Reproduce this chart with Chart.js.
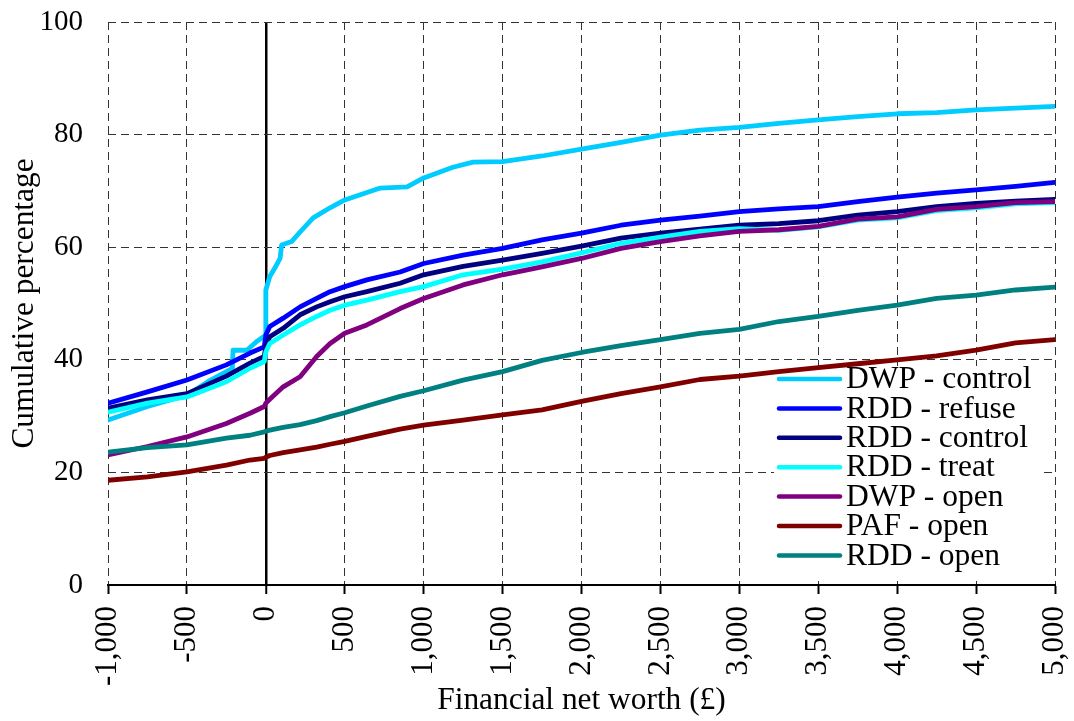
<!DOCTYPE html>
<html>
<head>
<meta charset="utf-8">
<script src="https://cdn.jsdelivr.net/npm/chart.js@4"></script>
<style>
  body { margin: 0; background: #fff; }
  #wrap { width: 1074px; height: 721px; position: relative; }
</style>
</head>
<body>
<div id="wrap"><canvas id="cdf-chart"></canvas></div>
<script>
const cdf_chart = document.getElementById("cdf-chart");

// net worth points (£), shared by most series
const worth = [-1000, -750, -500, -250, -100, -10, 0, 25, 110, 217, 322, 407, 500, 640, 851, 1000,
  1250, 1500, 1750, 2000, 2250, 2500, 2750, 3000, 3250, 3500, 3750, 4000, 4250, 4500, 4750, 5000];

const rddRefuse = [32.3, 34.3, 36.4, 39.1, 41.2, 42.3, 44.4, 45.9, 47.4, 49.4, 50.9, 52.1, 53.0, 54.2, 55.6, 57.1,
  58.6, 59.8, 61.3, 62.5, 63.9, 64.8, 65.5, 66.3, 66.8, 67.2, 68.1, 68.9, 69.6, 70.2, 70.8, 71.5];
const rddControl = [31.4, 32.9, 34.0, 37.1, 39.4, 40.6, 42.3, 44.1, 45.6, 48.0, 49.4, 50.3, 51.2, 52.1, 53.6, 55.1,
  56.6, 57.7, 58.9, 60.2, 61.6, 62.5, 63.2, 63.9, 64.2, 64.7, 65.7, 66.3, 67.2, 67.8, 68.2, 68.5];
const rddTreat = [30.7, 32.3, 33.4, 36.1, 38.5, 39.7, 41.4, 42.9, 44.4, 46.2, 47.7, 48.8, 49.7, 50.6, 52.1, 53.0,
  55.1, 56.1, 57.4, 59.0, 60.7, 61.8, 62.8, 63.3, 63.0, 63.6, 64.8, 65.2, 66.5, 67.0, 67.7, 67.9];
const dwpOpen = [23.1, 24.6, 26.3, 28.7, 30.5, 31.7, 32.3, 33.0, 35.2, 37.0, 40.6, 42.9, 44.7, 46.2, 49.1, 50.9,
  53.3, 55.1, 56.5, 58.0, 59.8, 61.0, 62.0, 62.8, 63.1, 63.7, 65.0, 65.4, 66.7, 67.2, 67.9, 68.1];
const pafOpen = [18.6, 19.2, 20.1, 21.3, 22.2, 22.5, 22.7, 23.0, 23.5, 24.0, 24.5, 25.0, 25.5, 26.4, 27.7, 28.4,
  29.3, 30.2, 31.1, 32.6, 34.0, 35.2, 36.5, 37.1, 37.9, 38.6, 39.3, 40.0, 40.7, 41.7, 43.0, 43.6];
const rddOpen = [23.6, 24.4, 24.9, 26.1, 26.6, 27.2, 27.3, 27.5, 28.0, 28.5, 29.2, 29.9, 30.6, 31.8, 33.5, 34.5,
  36.4, 37.9, 39.9, 41.3, 42.5, 43.6, 44.7, 45.4, 46.8, 47.7, 48.8, 49.7, 50.9, 51.5, 52.4, 52.9];

// DWP - control jumps in different places, so it has its own x points
const dwpControlWorth = [-1000, -750, -500, -350, -250, -212, -208, -120, -60, -5, 0, 25, 57, 90, 100, 163, 217,
  300, 407, 500, 725, 895, 1000, 1185, 1313, 1500, 1750, 2000, 2250, 2500, 2750, 3000, 3250, 3500, 3750, 4000,
  4250, 4500, 4750, 5000];
const dwpControl = [29.3, 31.7, 33.7, 36.4, 37.9, 38.5, 41.7, 41.7, 43.2, 44.3, 52.4, 54.8, 56.3, 58.0, 60.4, 61.0,
  62.7, 65.2, 67.0, 68.4, 70.5, 70.7, 72.3, 74.2, 75.1, 75.2, 76.2, 77.4, 78.6, 79.9, 80.8, 81.3, 82.0, 82.6,
  83.2, 83.7, 83.9, 84.4, 84.7, 85.0];

const yTicks = [0, 20, 40, 60, 80, 100];

const FONT = "'Liberation Serif', 'Times New Roman', serif";

function pts(xs, ys) {
  return xs.map((x, i) => ({ x: x, y: ys[i] }));
}

const series = [
  { label: 'DWP - control', color: '#00CCFF', data: pts(dwpControlWorth, dwpControl) },
  { label: 'RDD - refuse', color: '#0000FF', data: pts(worth, rddRefuse) },
  { label: 'RDD - control', color: '#000080', data: pts(worth, rddControl) },
  { label: 'RDD - treat', color: '#00FFFF', data: pts(worth, rddTreat) },
  { label: 'DWP - open', color: '#800080', data: pts(worth, dwpOpen) },
  { label: 'PAF - open', color: '#800000', data: pts(worth, pafOpen) },
  { label: 'RDD - open', color: '#008080', data: pts(worth, rddOpen) },
];

// keep the plot box where the Excel one is: no extra room for label overhang
function noOverhang(scale) {
  scale.paddingLeft = 0;
  scale.paddingRight = 0;
  scale.paddingTop = 0;
  scale.paddingBottom = 0;
}

// legend box sits inside the plot, bottom right, like the Excel one.
// drawn before the lines so it hides the grid but not the PAF curve above it
const boxLegend = {
  id: 'boxLegend',
  beforeDatasetsDraw(chart) {
    const ctx = chart.ctx;
    const a = chart.chartArea;
    const left = a.right - 281, top = a.bottom - 219;
    ctx.save();
    ctx.fillStyle = '#fff';
    ctx.fillRect(left, top, 269, 211);
    ctx.font = '31.5px ' + FONT;
    ctx.textBaseline = 'middle';
    ctx.lineCap = 'round';
    chart.data.datasets.forEach((ds, i) => {
      const y = top + 13 + i * 29.4;
      ctx.strokeStyle = ds.borderColor;
      ctx.lineWidth = 4.5;
      ctx.beginPath();
      ctx.moveTo(left + 5, y);
      ctx.lineTo(left + 66, y);
      ctx.stroke();
      ctx.fillStyle = '#000';
      ctx.fillText(ds.label, left + 72, y + 1);
    });
    ctx.restore();
  }
};

new Chart(cdf_chart, {
  type: 'line',
  data: {
    datasets: series.map((s, i) => ({
      label: s.label,
      data: s.data,
      borderColor: s.color,
      backgroundColor: s.color,
      borderWidth: 4.8,
      borderCapStyle: 'round',
      borderJoinStyle: 'round',
      pointRadius: 0,
      tension: 0,
      order: series.length - i
    }))
  },
  options: {
    responsive: true,
    maintainAspectRatio: false,
    animation: false,
    layout: { padding: { top: 22, right: 19, left: 0, bottom: 0 } },
    plugins: {
      legend: { display: false },
      tooltip: { enabled: false }
    },
    scales: {
      x: {
        type: 'linear',
        min: -1000,
        max: 5000,
        afterFit: (scale) => { scale.height = 136; noOverhang(scale); },
        ticks: {
          stepSize: 500,
          minRotation: 90,
          maxRotation: 90,
          padding: 12,
          color: '#000',
          font: { family: FONT, size: 31 },
          callback: (v) => Number(v).toLocaleString('en-US')
        },
        grid: {
          color: (c) => (c.tick && c.tick.value === 0 ? '#000' : '#333'),
          lineWidth: (c) => (c.tick && c.tick.value === 0 ? 2.5 : 1),
          drawTicks: true,
          tickLength: 9,
          tickColor: '#000',
          tickWidth: 2,
          tickBorderDash: []
        },
        border: {
          display: true,
          color: '#000',
          width: 2,
          dash: (c) => (c.tick && c.tick.value === 0 ? [] : [8, 5])
        },
        title: {
          display: true,
          text: 'Financial net worth (£)',
          color: '#000',
          font: { family: FONT, size: 31.4 },
          padding: { top: 0, bottom: 1 }
        }
      },
      y: {
        min: 0,
        max: 100,
        afterFit: (scale) => { scale.width = 108; noOverhang(scale); },
        afterBuildTicks: (scale) => { scale.ticks = yTicks.map(v => ({ value: v })); },
        ticks: {
          padding: 25,
          color: '#000',
          font: { family: FONT, size: 29 }
        },
        grid: {
          color: '#333',
          lineWidth: 1,
          drawTicks: false
        },
        border: { display: false, dash: [8, 5] },
        title: {
          display: true,
          text: 'Cumulative percentage',
          color: '#000',
          font: { family: FONT, size: 31.4 },
          padding: { top: 6, bottom: 0 }
        }
      }
    }
  },
  plugins: [boxLegend]
});
</script>
</body>
</html>
